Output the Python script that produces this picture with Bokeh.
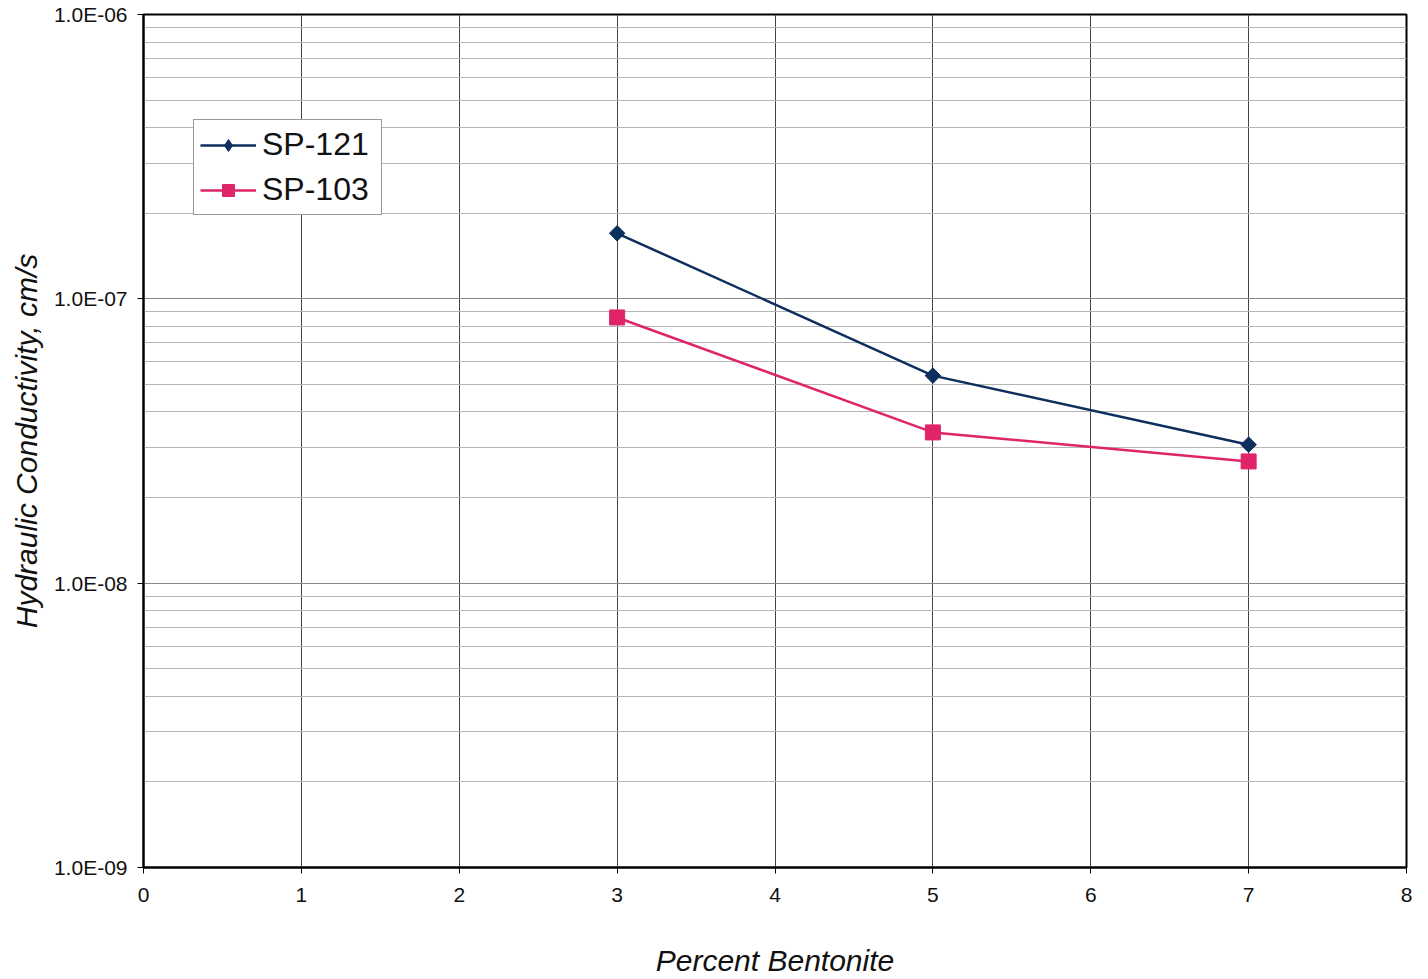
from bokeh.plotting import figure
from bokeh.models import FixedTicker, CustomJSTickFormatter, Legend, LegendItem, Range1d
from bokeh.embed import file_html
from bokeh.resources import INLINE

# Data
bentonite = [3, 5, 7]
sp121 = [1.70e-7, 5.37e-8, 3.07e-8]
sp103 = [8.6e-8, 3.39e-8, 2.68e-8]
x_ticks = [0, 1, 2, 3, 4, 5, 6, 7, 8]
y_ticks = [1e-9, 1e-8, 1e-7, 1e-6]
y_tick_labels = ["1.0E-09", "1.0E-08", "1.0E-07", "1.0E-06"]

FONT = "Liberation Sans"

p = figure(width=1420, height=979, y_axis_type="log",
           x_range=Range1d(0, 8), y_range=Range1d(1e-9, 1e-6),
           output_backend="svg", toolbar_location=None,
           min_border_left=143, min_border_right=14, min_border_top=14, min_border_bottom=104)
p.background_fill_color = "white"
p.border_fill_color = "white"
p.outline_line_color = "black"
p.outline_line_width = 2

minor = []
for d in [1e-9, 1e-8, 1e-7]:
    for k in range(2, 10):
        minor.append(k * d)

p.xaxis.ticker = FixedTicker(ticks=x_ticks)
p.yaxis.ticker = FixedTicker(ticks=y_ticks, minor_ticks=minor)
p.yaxis.formatter = CustomJSTickFormatter(args=dict(vals=y_ticks, labels=y_tick_labels), code="""
let best = 0, bd = 1e9;
for (let i = 0; i < vals.length; i++) {
  const d = Math.abs(Math.log10(vals[i]) - Math.log10(tick));
  if (d < bd) { bd = d; best = i; }
}
return labels[best];
""")

for ax in (p.xaxis, p.yaxis):
    ax.axis_line_color = "black"
    ax.axis_line_width = 2
    ax.major_tick_line_color = "black"
    ax.major_tick_out = 6
    ax.major_tick_in = 0
    ax.minor_tick_line_color = None
    ax.major_label_text_font = FONT
    ax.major_label_text_font_size = "21px"
    ax.major_label_text_color = "#111111"
    ax.axis_label_text_font = FONT
    ax.axis_label_text_font_size = "30px"
    ax.axis_label_text_font_style = "italic"
    ax.axis_label_text_color = "#111111"

p.xaxis.axis_label = "Percent Bentonite"
p.yaxis.axis_label = "Hydraulic Conductivity, cm/s"
p.xaxis.major_label_standoff = 14
p.yaxis.major_label_standoff = 10
p.xaxis.axis_label_standoff = 39
p.yaxis.axis_label_standoff = 8

p.xgrid.grid_line_color = "#444444"
p.xgrid.grid_line_width = 1
p.ygrid.grid_line_color = "#888888"
p.ygrid.grid_line_width = 1
p.ygrid.minor_grid_line_color = "#b5b5b5"
p.ygrid.minor_grid_line_width = 1

navy = "#0d2f5e"
pink = "#e0246a"

l1 = p.line(bentonite, sp121, line_color=navy, line_width=2.5)
m1 = p.scatter(bentonite, sp121, marker="square", angle=0.785398, size=11,
               fill_color=navy, line_color=navy)
l2 = p.line(bentonite, sp103, line_color=pink, line_width=2.5)
m2 = p.scatter(bentonite, sp103, marker="square", size=15, fill_color=pink, line_color=pink)
# legend-only diamond glyph (no visible point)
m1_leg = p.scatter([float("nan")], [float("nan")], marker="diamond", size=21,
                   fill_color=navy, line_color=navy)

legend = Legend(items=[LegendItem(label="SP-121", renderers=[l1, m1_leg]),
                       LegendItem(label="SP-103", renderers=[l2, m2])],
                location=(50, 652))
legend.label_text_font = FONT
legend.label_text_font_size = "32px"
legend.label_text_color = "#111111"
legend.glyph_width = 56
legend.glyph_height = 30
legend.label_height = 30
legend.label_width = 113
legend.label_standoff = 6
legend.spacing = 8
legend.padding = 6
legend.margin = 0
legend.border_line_color = "#333333"
legend.border_line_width = 1
legend.background_fill_color = "white"
legend.background_fill_alpha = 1
p.add_layout(legend)

open("out.html", "w").write(file_html(p, INLINE))
